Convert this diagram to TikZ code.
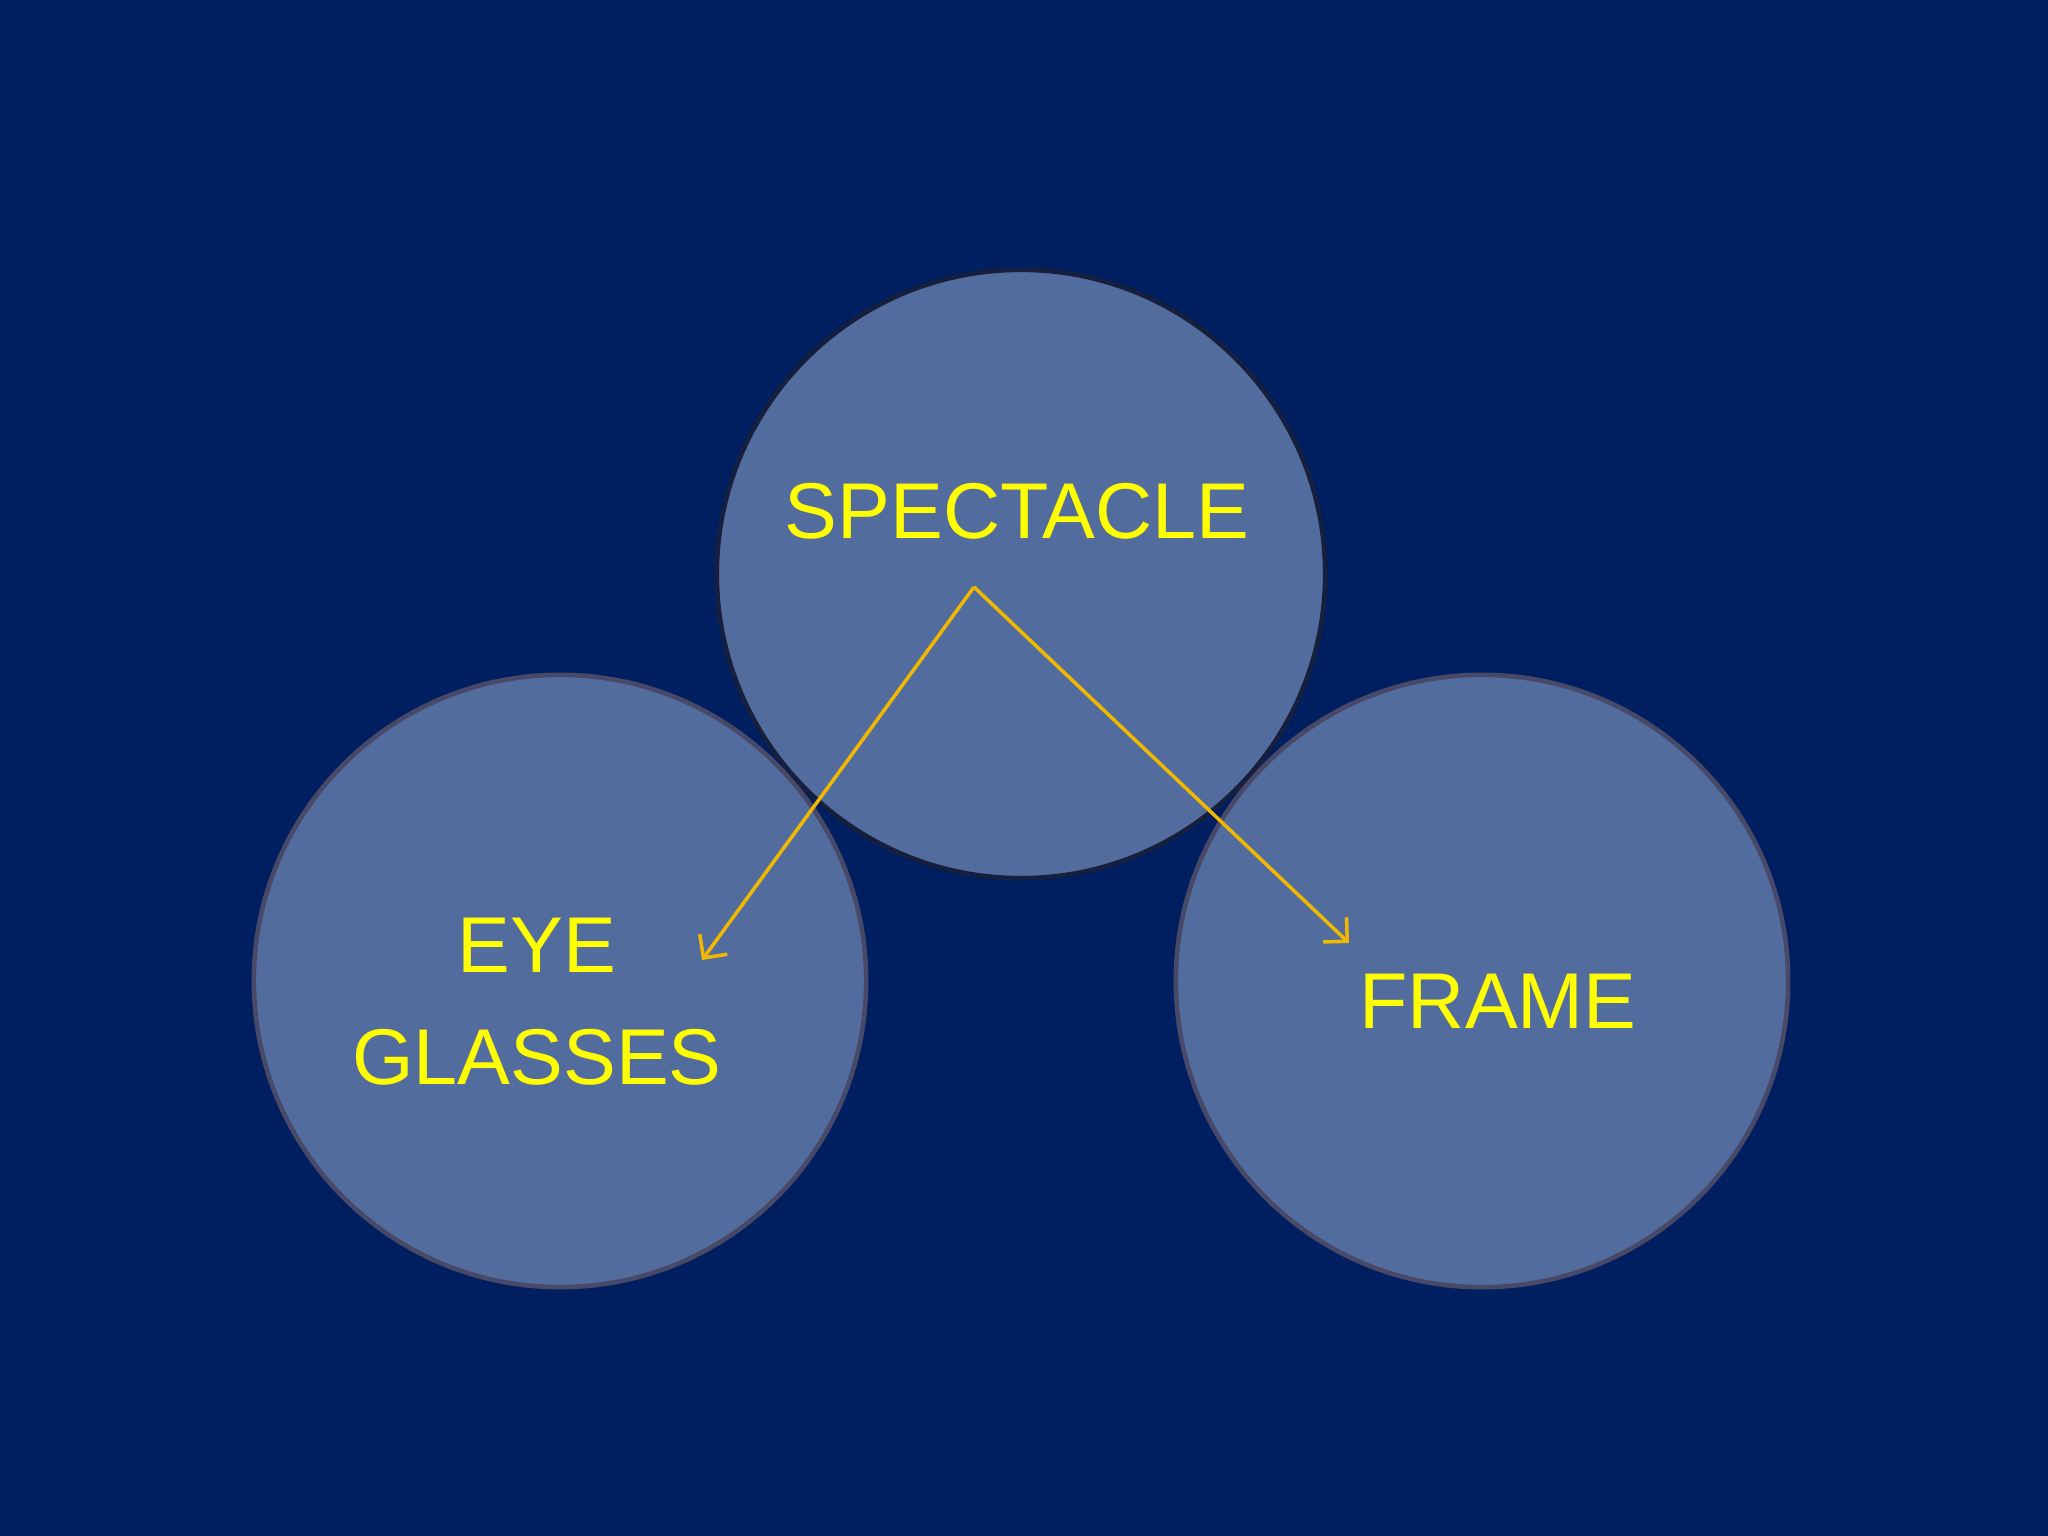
\documentclass[tikz,border=0pt]{standalone}
\usepackage{fontspec}
\setmainfont{Liberation Sans}
\usetikzlibrary{arrows.meta}
\definecolor{navy}{RGB}{0,31,96}
\definecolor{lens}{RGB}{83,108,158}
\definecolor{rimdark}{RGB}{22,32,62}
\definecolor{rimgrey}{RGB}{72,72,104}
\definecolor{gold}{RGB}{240,184,0}
\definecolor{label}{RGB}{255,255,0}
\begin{document}
\begin{tikzpicture}
  [x=0.01cm,y=-0.01cm,
   lensnode/.style={circle,fill=lens,line width=1.3pt,inner sep=0pt},
   word/.style={text=label,font=\fontsize{22.5}{31.9}\selectfont,align=center,inner sep=0pt}]
  \fill[navy] (0,0) rectangle (2048,1536);
  \useasboundingbox (0,0) rectangle (2048,1536);

  \node[lensnode,draw=rimgrey,minimum size=6.12cm] (left) at (560,981) {};
  \node[lensnode,draw=rimgrey,minimum size=6.12cm] (right) at (1482,981) {};
  \node[lensnode,draw=rimdark,minimum size=6.08cm] (top) at (1021,574) {};

  \node[word] (spec) at (1017,511) {SPECTACLE};
  \node[word] (eye) at (537,1002) {EYE\\GLASSES};
  \node[word] (frame) at (1498,1001) {FRAME};

  \coordinate (apex) at (974,587);
  \coordinate (eyetip) at (702,960);
  \coordinate (frametip) at (1349,943);

  \foreach \to in {eyetip, frametip}
  \draw[gold,line width=1pt,-{Straight Barb[length=1.7mm,width=3.4mm]}] (apex) -- (\to);
\end{tikzpicture}
\end{document}
